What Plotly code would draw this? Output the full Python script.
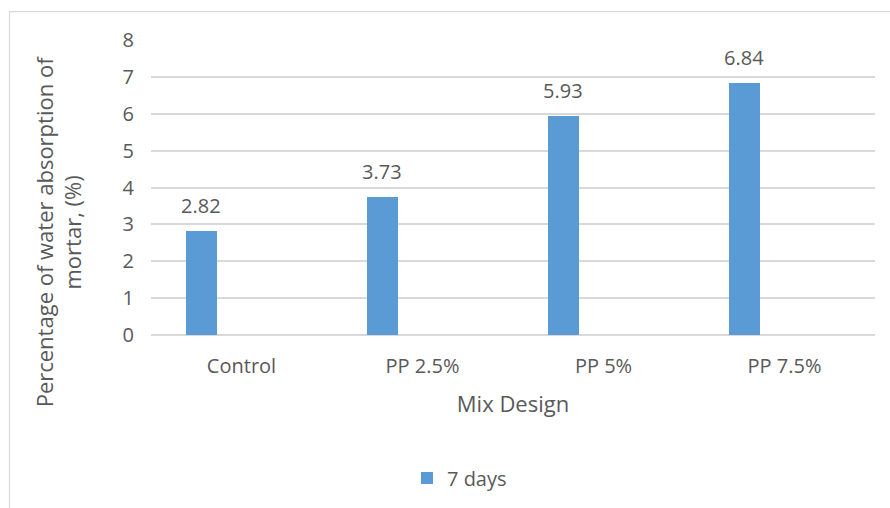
import plotly.graph_objects as go

# Mix designs and 7-day water absorption of mortar (%)
mixes = ["Control", "PP 2.5%", "PP 5%", "PP 7.5%"]
absorption_7d = [2.82, 3.73, 5.93, 6.84]
y_ticks = [0, 1, 2, 3, 4, 5, 6, 7, 8]

FONT = "'Open Sans', Lato, sans-serif"
GREY = "#595959"

# plot area in pixels (left, right, top, bottom) of an 890x508 page
PL, PR, PT, PB = 151, 875, 40, 336
W, H = 890, 508

BAR_WIDTH = 0.171
BAR_OFFSET = -0.307


def px_x(px):
    return (px - PL) / (PR - PL)


def px_y(py):
    return (PB - py) / (PB - PT)


fig = go.Figure()
fig.add_trace(go.Bar(
    x=mixes,
    y=absorption_7d,
    name="7 days",
    marker=dict(color="#5B9BD5", line=dict(width=0)),
    width=BAR_WIDTH,
    offset=BAR_OFFSET,
))

# value labels centred above each bar
for i, v in enumerate(absorption_7d):
    fig.add_annotation(
        x=i + BAR_OFFSET + BAR_WIDTH / 2, y=v,
        xref="x", yref="y",
        text=f"{v:.2f}", showarrow=False,
        xanchor="center", yanchor="bottom", yshift=10,
        font=dict(family=FONT, size=20, color=GREY),
    )

fig.update_layout(
    width=W, height=H,
    margin=dict(l=PL, r=W - PR, t=PT, b=H - PB),
    paper_bgcolor="white",
    plot_bgcolor="white",
    font=dict(family=FONT, size=20, color=GREY),
    showlegend=True,
    legend=dict(
        x=px_x(407), y=px_y(478), xanchor="left", yanchor="middle",
        font=dict(family=FONT, size=20, color=GREY),
        itemwidth=30,
    ),
    xaxis=dict(
        showgrid=False, showline=False, ticks="",
        tickfont=dict(family=FONT, size=20, color=GREY),
        ticklabelstandoff=17,
        title=dict(text="Mix Design", font=dict(family=FONT, size=22, color=GREY), standoff=18),
    ),
    yaxis=dict(
        range=[0, 8], tickvals=y_ticks,
        showgrid=True, gridcolor="#D9D9D9", gridwidth=1.5,
        zeroline=True, zerolinecolor="#D9D9D9", zerolinewidth=1.5,
        showline=False, ticks="",
        tickfont=dict(family=FONT, size=20, color=GREY),
        ticklabelstandoff=16,
    ),
    bargap=0,
)

# rotated y-axis title on two lines
fig.add_annotation(
    text="Percentage of water absorption of<br>mortar, (%)",
    xref="paper", yref="paper",
    x=px_x(58), y=px_y(233),
    xanchor="center", yanchor="middle",
    textangle=-90, showarrow=False,
    font=dict(family=FONT, size=22, color=GREY),
)

# chart border
fig.add_shape(
    type="rect", xref="paper", yref="paper",
    x0=px_x(9.5), x1=px_x(W + 20), y0=px_y(H + 20), y1=px_y(11.5),
    line=dict(color="#D9D9D9", width=1.2), fillcolor="rgba(0,0,0,0)",
    layer="below",
)

fig.write_html("out.html")
